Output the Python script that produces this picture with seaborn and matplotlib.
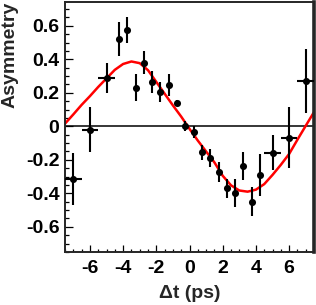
import numpy as np
import pandas as pd
import seaborn as sns
import matplotlib.pyplot as plt
from matplotlib.ticker import FixedLocator, MultipleLocator

dt = [-7.0, -6.0, -5.0, -4.25, -3.75, -3.25, -2.75, -2.25, -1.75, -1.25, -0.75, -0.25,
      0.25, 0.75, 1.25, 1.75, 2.25, 2.75, 3.25, 3.75, 4.25, 5.0, 6.0, 7.0]
asym = [-0.315, -0.02, 0.29, 0.52, 0.575, 0.23, 0.38, 0.265, 0.207, 0.245, 0.14, 0.0,
        -0.035, -0.155, -0.19, -0.272, -0.37, -0.397, -0.236, -0.45, -0.29, -0.157, -0.067, 0.272]
asym_err = [0.155, 0.135, 0.09, 0.10, 0.075, 0.08, 0.07, 0.065, 0.06, 0.065, 0.02, 0.03,
            0.035, 0.045, 0.055, 0.06, 0.055, 0.085, 0.083, 0.087, 0.124, 0.105, 0.18, 0.19]
dt_err = [0.5, 0.5, 0.5, 0, 0, 0, 0, 0, 0, 0, 0, 0,
          0, 0, 0, 0, 0, 0, 0, 0, 0, 0.5, 0.5, 0.5]

# fitted curve, every 0.5 ps
fit_t = [-7.5, -7.0, -6.5, -6.0, -5.5, -5.0, -4.5, -4.0, -3.5, -3.0, -2.5, -2.0, -1.5, -1.0, -0.5,
         0.0, 0.5, 1.0, 1.5, 2.0, 2.5, 3.0, 3.5, 4.0, 4.5, 5.0, 5.5, 6.0, 6.5, 7.0, 7.5]
fit_a = [0.016, 0.071, 0.128, 0.18, 0.235, 0.286, 0.337, 0.372, 0.387, 0.377, 0.335, 0.265, 0.195,
         0.125, 0.058, -0.015, -0.085, -0.15, -0.215, -0.295, -0.352, -0.383, -0.39, -0.378,
         -0.345, -0.29, -0.23, -0.165, -0.08, 0.003, 0.085]

xticks = [-6, -4, -2, 0, 2, 4, 6]
yticks = [-0.6, -0.4, -0.2, 0, 0.2, 0.4, 0.6]
ylabels = ['-0.6', '-0.4', '-0.2', '0', '0.2', '0.4', '0.6']

pts = pd.DataFrame({'dt': dt, 'asym': asym})
fit = pd.DataFrame({'t': fit_t, 'a': fit_a})

sns.set_style('ticks')
plt.rcParams['font.family'] = ['Liberation Sans', 'DejaVu Sans']
plt.rcParams['font.weight'] = 'bold'

fig = plt.figure(figsize=(3.16, 3.05), dpi=100)
ax = fig.add_axes([65 / 316, 1 - 252 / 305, 249 / 316, 250.5 / 305])

ax.axhline(0, color='black', lw=1.1, zorder=1)
sns.lineplot(data=fit, x='t', y='a', ax=ax, color='#ff0000', lw=1.8, zorder=2)
ax.errorbar(dt, asym, yerr=asym_err, xerr=dt_err, fmt='none', ecolor='black',
            elinewidth=1.5, capsize=0, zorder=3)
sns.scatterplot(data=pts, x='dt', y='asym', ax=ax, color='black', s=26,
                edgecolor='black', linewidth=0, zorder=4)

ax.set_xlim(-7.5, 7.5)
ax.set_ylim(-0.75, 0.745)
ax.xaxis.set_major_locator(FixedLocator(xticks))
ax.xaxis.set_minor_locator(MultipleLocator(0.5))
ax.yaxis.set_major_locator(FixedLocator(yticks))
ax.yaxis.set_minor_locator(MultipleLocator(0.05))
ax.set_xticklabels([str(v) for v in xticks])
ax.set_yticklabels(ylabels)
ax.tick_params(which='both', direction='in', width=0.9, labelsize=14, colors='black')
ax.tick_params(axis='x', which='major', length=5, pad=6)
ax.tick_params(axis='x', which='minor', length=2.5)
ax.tick_params(axis='y', which='major', length=6, pad=4)
ax.tick_params(axis='y', which='minor', length=3)

for s in ['left', 'bottom', 'top']:
    ax.spines[s].set_linewidth(1.4)
ax.spines['right'].set_linewidth(2.6)

ax.set_xlabel('\u0394t (ps)', fontsize=14, fontweight='bold')
ax.set_ylabel('Asymmetry', fontsize=14, fontweight='bold', loc='top')
ax.xaxis.set_label_coords(0.5, -0.13)
ax.yaxis.set_label_coords(-0.185, 1.0)

plt.savefig('out.png', dpi=100)
plt.close()
